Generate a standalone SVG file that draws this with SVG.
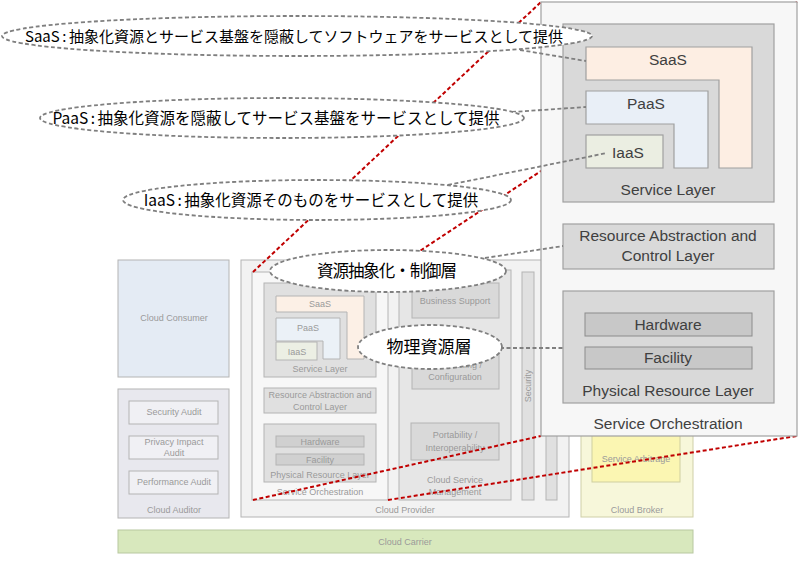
<svg xmlns="http://www.w3.org/2000/svg" width="800" height="566" viewBox="0 0 800 566">
<style>
.s{font-family:"Liberation Sans","Noto Sans CJK JP",sans-serif;font-size:9px;fill:#9a9a9a;text-anchor:middle}
.b{font-family:"Liberation Sans","Noto Sans CJK JP",sans-serif;font-size:15.5px;fill:#404040;text-anchor:middle}
.j{font-family:"Noto Sans CJK JP",sans-serif;fill:#000;text-anchor:middle}
.bx{stroke:#b4b4b4;stroke-width:1}
.pb{stroke:#a0a0a0;stroke-width:1.2}
.red{stroke:#c00000;stroke-width:2;stroke-dasharray:4 2.5;fill:none}
.gc{stroke:#7f7f7f;stroke-width:1.8;stroke-dasharray:4 2.5;fill:none}
.el{fill:#fff;stroke:#7f7f7f;stroke-width:1.8;stroke-dasharray:4 2.5}
</style>
<rect width="800" height="566" fill="#fff"/>
<g id="cloud-consumer"><rect class="bx" x="118" y="260" width="111" height="117" fill="#e4ebf4"/><text class="s" x="174" y="321">Cloud Consumer</text></g>
<g id="cloud-auditor"><rect class="bx" x="118" y="389" width="111" height="129" fill="#e8e8ee"/>
<rect class="bx" x="129" y="401" width="89" height="23" fill="#f0f0f4"/><text class="s" x="174" y="415">Security Audit</text>
<rect class="bx" x="129" y="436" width="89" height="23" fill="#f0f0f4"/><text class="s" x="174" y="445">Privacy Impact</text><text class="s" x="174" y="456">Audit</text>
<rect class="bx" x="129" y="471" width="89" height="23" fill="#f0f0f4"/><text class="s" x="174" y="485">Performance Audit</text>
<text class="s" x="174" y="513">Cloud Auditor</text></g>
<g id="cloud-provider"><rect class="bx" x="241" y="260" width="328" height="257" fill="#f2f2f2"/><text class="s" x="405" y="513">Cloud Provider</text>
<rect class="bx" x="252" y="272" width="136" height="228" fill="#f7f7f7"/>
<rect class="bx" x="264" y="283" width="112" height="94" fill="#e0e0e0"/>
<polygon class="bx" points="276,296 364,296 364,359 347,359 347,312 276,312" fill="#fcf0e6"/>
<polygon class="bx" points="276,318 340,318 340,359 323,359 323,341 276,341" fill="#ebf1f7"/>
<rect class="bx" x="276" y="342" width="41" height="18" fill="#ecefe4"/>
<text class="s" x="320" y="307">SaaS</text><text class="s" x="308" y="331">PaaS</text><text class="s" x="297" y="355">IaaS</text><text class="s" x="320" y="372">Service Layer</text>
<rect class="bx" x="264" y="388" width="112" height="25" fill="#e0e0e0"/><text class="s" x="320" y="398">Resource Abstraction and</text><text class="s" x="320" y="410">Control Layer</text>
<rect class="bx" x="264" y="424" width="112" height="58" fill="#e0e0e0"/>
<rect class="bx" x="276" y="436" width="88" height="11" fill="#d0d0d0"/><text class="s" x="320" y="445">Hardware</text>
<rect class="bx" x="276" y="454" width="88" height="11" fill="#d0d0d0"/><text class="s" x="320" y="463">Facility</text>
<text class="s" x="320" y="478">Physical Resource Layer</text><text class="s" x="320" y="495">Service Orchestration</text>
<rect class="bx" x="399" y="270" width="112" height="230" fill="#e6e6e6"/>
<rect class="bx" x="412" y="283" width="87" height="35" fill="#d9d9d9"/><text class="s" x="455" y="304">Business Support</text>
<rect class="bx" x="412" y="352" width="87" height="37" fill="#d9d9d9"/><text class="s" x="455" y="368">Provisioning /</text><text class="s" x="455" y="380">Configuration</text>
<rect class="bx" x="411" y="423" width="88" height="37" fill="#d9d9d9"/><text class="s" x="455" y="438">Portability /</text><text class="s" x="455" y="451">Interoperability</text>
<text class="s" x="455" y="483">Cloud Service</text><text class="s" x="455" y="495">Management</text>
<rect class="bx" x="522" y="272" width="12" height="228" fill="#e0e0e0"/><text class="s" transform="translate(531,386) rotate(-90)">Security</text>
<rect class="bx" x="546" y="272" width="11" height="228" fill="#e0e0e0"/></g>
<g id="cloud-broker"><rect x="581" y="260" width="112" height="257" fill="#f7f7da" stroke="#cfcfa8"/>
<rect x="592" y="425" width="88" height="57" fill="#fbf6b2" stroke="#cfcfa0"/><text class="s" x="636" y="462">Service Arbitrage</text>
<text class="s" x="637" y="513">Cloud Broker</text></g>
<g id="cloud-carrier"><rect x="118" y="530" width="575" height="23" fill="#d8e8bd" stroke="#b8c8a0"/><text class="s" x="405" y="545">Cloud Carrier</text></g>
<g id="zoom-lines"><line class="red" x1="253" y1="272" x2="541" y2="2"/><line class="red" x1="388" y1="272" x2="797" y2="2"/><line class="red" x1="253" y1="500" x2="541" y2="436"/><line class="red" x1="388" y1="500" x2="797" y2="436"/></g>
<g id="service-orchestration-panel"><rect class="pb" x="541" y="2" width="256" height="434" fill="#f7f7f7"/>
<g id="service-layer"><rect class="pb" x="563" y="24" width="211" height="178" fill="#d9d9d9"/>
<polygon class="pb" points="586,47 752,47 752,168 719,168 719,80 586,80" fill="#fdeee3"/>
<polygon class="pb" points="586,91 708,91 708,168 674,168 674,124 586,124" fill="#e9eff7"/>
<rect class="pb" x="586" y="135" width="77" height="33" fill="#ebeee2"/>
<text class="b" x="668" y="65">SaaS</text><text class="b" x="646" y="109">PaaS</text><text class="b" x="628" y="158">IaaS</text><text class="b" x="668" y="195">Service Layer</text></g>
<g id="resource-abstraction"><rect class="pb" x="563" y="224" width="211" height="45" fill="#d9d9d9"/><text class="b" x="668" y="241">Resource Abstraction and</text><text class="b" x="668" y="261">Control Layer</text></g>
<g id="physical-resource"><rect class="pb" x="563" y="291" width="211" height="112" fill="#d9d9d9"/>
<rect x="585" y="313" width="167" height="23" fill="#c8c8c8" stroke="#8c8c8c"/><text class="b" x="668" y="330">Hardware</text>
<rect x="585" y="347" width="167" height="22" fill="#c8c8c8" stroke="#8c8c8c"/><text class="b" x="668" y="363">Facility</text>
<text class="b" x="668" y="396">Physical Resource Layer</text></g>
<text class="b" x="668" y="429">Service Orchestration</text></g>
<g id="connectors"><line class="gc" x1="520" y1="50" x2="586" y2="61"/><line class="gc" x1="512" y1="112" x2="586" y2="107"/><line class="gc" x1="448" y1="185" x2="607" y2="153"/><line class="gc" x1="485" y1="258" x2="563" y2="246"/><line class="gc" x1="500" y1="348" x2="563" y2="348"/></g>
<g id="saas-note"><ellipse class="el" cx="297" cy="36" rx="295" ry="20"/><text class="j" x="294" y="42" font-size="15">SaaS<tspan dx="2.5">:</tspan><tspan dx="2.5">抽象化資源とサービス基盤を隠蔽してソフトウェアをサービスとして提供</tspan></text></g>
<g id="paas-note"><ellipse class="el" cx="282" cy="118" rx="242" ry="20"/><text class="j" x="276" y="124" font-size="15.5">PaaS<tspan dx="2.5">:</tspan><tspan dx="2.5">抽象化資源を隠蔽してサービス基盤をサービスとして提供</tspan></text></g>
<g id="iaas-note"><ellipse class="el" cx="317" cy="200" rx="194" ry="20"/><text class="j" x="311" y="206" font-size="15.5">IaaS<tspan dx="2.5">:</tspan><tspan dx="2.5">抽象化資源そのものをサービスとして提供</tspan></text></g>
<g id="rac-note"><ellipse class="el" cx="388" cy="271" rx="118" ry="21"/><text class="j" x="387" y="277" font-size="16.5" textLength="140" lengthAdjust="spacing">資源抽象化・制御層</text></g>
<g id="phys-note"><ellipse class="el" cx="430" cy="347" rx="72" ry="22"/><text class="j" x="429" y="353" font-size="17">物理資源層</text></g>
</svg>
